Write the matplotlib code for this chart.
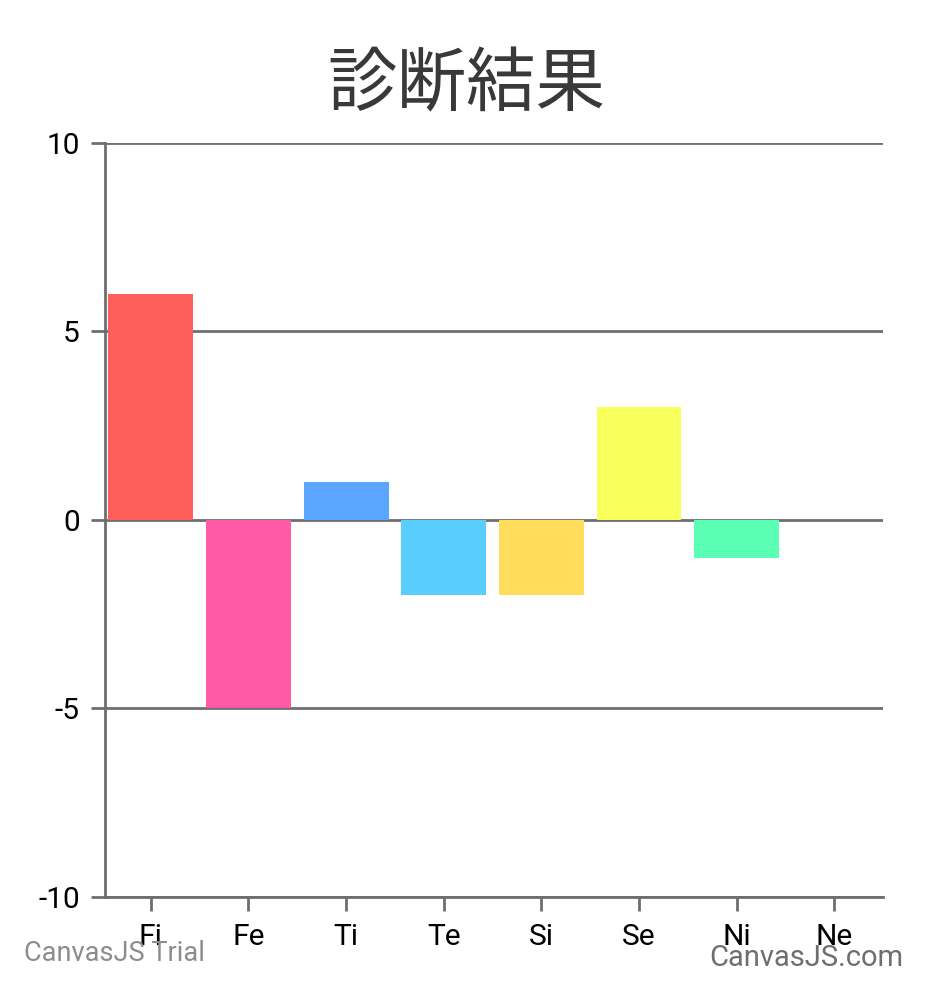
import matplotlib.pyplot as plt

plt.rcParams["font.family"] = ["Roboto", "Noto Sans CJK JP", "DejaVu Sans"]

# chart data
categories = ["Fi", "Fe", "Ti", "Te", "Si", "Se", "Ni", "Ne"]
values = [6, -5, 1, -2, -2, 3, -1, 0]
colors = ["#FF5F5A", "#FF5AA5", "#5AA5FF", "#5ACDFF", "#FFDC5A", "#F8FF5A", "#5AFFB4", "#AAAAAA"]
y_ticks = [-10, -5, 0, 5, 10]

axis_color = "#6E6E6E"

fig = plt.figure(figsize=(9.33, 9.99), dpi=100)
ax = fig.add_axes([0.1125, 0.1021, 0.834, 0.7548])

positions = range(len(categories))
ax.bar(positions, values, width=0.87, color=colors, zorder=3)

ax.set_xlim(-0.47, 7.5)
ax.set_ylim(-10, 10)
ax.set_yticks(y_ticks)
ax.set_yticklabels([str(v) for v in y_ticks])
ax.set_xticks(list(positions))
ax.set_xticklabels(categories)

ax.grid(axis="y", color=axis_color, linewidth=2, zorder=1)
for side in ["top", "right"]:
    ax.spines[side].set_visible(False)
for side in ["left", "bottom"]:
    ax.spines[side].set_color(axis_color)
    ax.spines[side].set_linewidth(2)

ax.tick_params(axis="both", colors=axis_color, width=2, length=10,
               labelsize=21.5, labelcolor="black")
ax.tick_params(axis="x", pad=9)
ax.tick_params(axis="y", pad=8)

fig.text(0.5, 0.914, "診断結果", ha="center", va="center", fontsize=50,
         color="#393939", family=["Noto Sans CJK JP", "DejaVu Sans"])

fig.text(0.026, 0.046, "CanvasJS Trial", ha="left", va="center",
         fontsize=19.5, color="#8C8C8C")
fig.text(0.968, 0.041, "CanvasJS.com", ha="right", va="center",
         fontsize=21, color="#6E6E6E")

plt.savefig("out.png", dpi=100)
